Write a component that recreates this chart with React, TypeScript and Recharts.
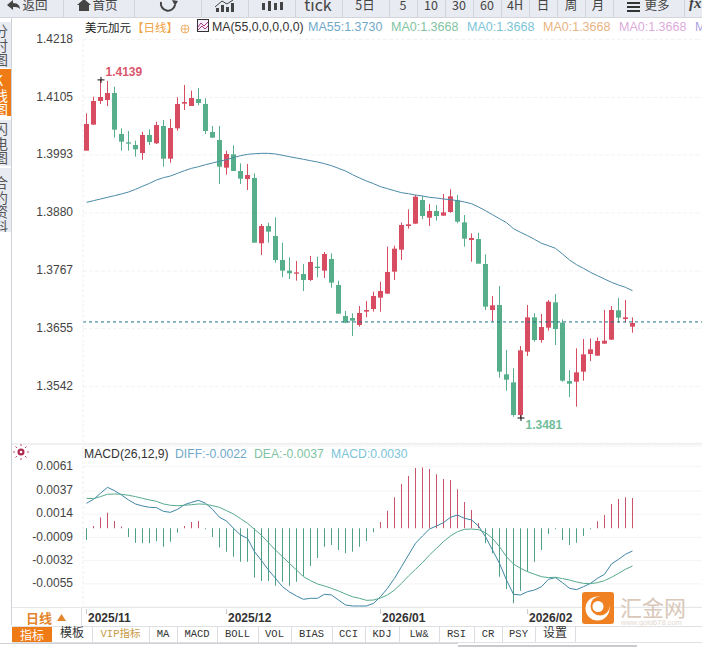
import { Bar, CartesianGrid, Cell, ComposedChart, Line, ReferenceDot, ReferenceLine, XAxis, YAxis } from 'recharts'

const opens = [1.40013, 1.40519, 1.40979, 1.40999, 1.41135, 1.40337, 1.40175, 1.40123, 1.39967, 1.40318, 1.40156, 1.40493, 1.39857, 1.40447, 1.40928, 1.40882, 1.41018, 1.40921, 1.40376, 1.4022, 1.39682, 1.39941, 1.39617, 1.39461, 1.39481, 1.3821, 1.38547, 1.38352, 1.37885, 1.37678, 1.37619, 1.37613, 1.37496, 1.37755, 1.37678, 1.37905, 1.37399, 1.36795, 1.36756, 1.3662, 1.3688, 1.36932, 1.37152, 1.3723, 1.37658, 1.38086, 1.38547, 1.38592, 1.39053, 1.38709, 1.38839, 1.38748, 1.38819, 1.39046, 1.38618, 1.38274, 1.38294, 1.37807, 1.36912, 1.37009, 1.3566, 1.35504, 1.34869, 1.36101, 1.36769, 1.36328, 1.36568, 1.37061, 1.36666, 1.3553, 1.35517, 1.35712, 1.36056, 1.36023, 1.36257, 1.36335, 1.36906, 1.36737, 1.36588]
const closes = [1.40532, 1.40979, 1.41057, 1.41135, 1.40422, 1.40188, 1.40149, 1.40039, 1.40318, 1.40182, 1.40512, 1.39857, 1.40454, 1.40921, 1.4096, 1.41038, 1.40941, 1.40396, 1.40266, 1.39701, 1.39948, 1.39617, 1.39468, 1.39539, 1.38222, 1.38547, 1.38437, 1.37885, 1.37678, 1.37626, 1.37645, 1.37496, 1.37846, 1.37729, 1.38002, 1.37444, 1.36841, 1.36666, 1.36705, 1.36854, 1.36912, 1.37185, 1.37282, 1.37652, 1.38106, 1.38566, 1.38579, 1.39118, 1.38741, 1.38839, 1.38741, 1.38813, 1.39124, 1.38631, 1.383, 1.38313, 1.37814, 1.36977, 1.37003, 1.35712, 1.35556, 1.34869, 1.36127, 1.36769, 1.36328, 1.36581, 1.37074, 1.36542, 1.35537, 1.35478, 1.35699, 1.36049, 1.36147, 1.36309, 1.36315, 1.36912, 1.36763, 1.36769, 1.36659]
const highs = [1.40739, 1.41064, 1.41388, 1.4137, 1.41258, 1.40447, 1.40396, 1.40207, 1.40383, 1.40428, 1.40577, 1.4061, 1.40629, 1.41051, 1.41291, 1.41181, 1.41232, 1.41031, 1.40493, 1.40493, 1.40013, 1.40117, 1.39766, 1.39753, 1.39572, 1.38586, 1.38612, 1.38715, 1.38222, 1.37937, 1.37866, 1.37807, 1.37963, 1.3795, 1.38041, 1.38015, 1.37483, 1.36893, 1.36847, 1.3699, 1.37087, 1.37269, 1.37464, 1.38145, 1.38164, 1.38612, 1.38871, 1.3915, 1.39131, 1.38975, 1.38955, 1.3917, 1.3926, 1.3915, 1.38761, 1.38404, 1.38417, 1.37995, 1.37185, 1.37379, 1.36134, 1.35777, 1.36212, 1.37009, 1.36847, 1.36834, 1.37107, 1.37223, 1.3673, 1.35744, 1.36166, 1.36348, 1.36361, 1.3638, 1.36912, 1.3699, 1.37146, 1.37107, 1.36769]
const lows = [1.40013, 1.40519, 1.40921, 1.40882, 1.40266, 1.40013, 1.40013, 1.39896, 1.39838, 1.40123, 1.40143, 1.39701, 1.39779, 1.40402, 1.40804, 1.40882, 1.40895, 1.40337, 1.40266, 1.39364, 1.39546, 1.39617, 1.39364, 1.39247, 1.38222, 1.37982, 1.38222, 1.37833, 1.37548, 1.37515, 1.37483, 1.37282, 1.37476, 1.37548, 1.37535, 1.37347, 1.36841, 1.36653, 1.36406, 1.36588, 1.36769, 1.3688, 1.3688, 1.3723, 1.37496, 1.37885, 1.38495, 1.38592, 1.38677, 1.38547, 1.38651, 1.38748, 1.38806, 1.38599, 1.38145, 1.37853, 1.37814, 1.36912, 1.36685, 1.35595, 1.35342, 1.34836, 1.34804, 1.36017, 1.36296, 1.36276, 1.3651, 1.36231, 1.35517, 1.35219, 1.35031, 1.35537, 1.3592, 1.36023, 1.36257, 1.36328, 1.36666, 1.36666, 1.36471]
const ma55 = [1.39007, 1.3904, 1.39072, 1.39105, 1.39137, 1.3917, 1.39208, 1.3926, 1.39319, 1.39377, 1.39442, 1.39487, 1.3952, 1.39572, 1.39624, 1.39669, 1.39701, 1.3974, 1.39773, 1.39805, 1.39838, 1.39877, 1.39915, 1.39941, 1.39954, 1.39961, 1.39961, 1.39948, 1.39922, 1.39896, 1.3987, 1.39844, 1.39818, 1.39792, 1.3976, 1.39721, 1.39669, 1.39617, 1.39546, 1.39481, 1.39423, 1.39371, 1.39312, 1.39273, 1.39234, 1.39195, 1.39176, 1.3915, 1.39131, 1.39105, 1.39092, 1.39072, 1.39059, 1.3904, 1.39014, 1.38981, 1.38917, 1.38845, 1.38767, 1.38689, 1.38612, 1.38495, 1.38424, 1.38359, 1.38287, 1.3821, 1.38164, 1.38112, 1.38002, 1.37885, 1.37794, 1.37723, 1.37645, 1.3758, 1.37515, 1.37451, 1.37399, 1.37353, 1.37288]

const diff = [0.00248, 0.00287, 0.00347, 0.00406, 0.00373, 0.0033, 0.00281, 0.00241, 0.00221, 0.00208, 0.00205, 0.00168, 0.00158, 0.00188, 0.00234, 0.00257, 0.00277, 0.00248, 0.00188, 0.00109, 0.00073, 0, -0.00066, -0.00099, -0.00231, -0.0032, -0.00413, -0.00495, -0.00578, -0.0063, -0.0067, -0.00703, -0.00693, -0.00693, -0.00653, -0.0066, -0.0071, -0.00759, -0.00769, -0.00769, -0.00769, -0.00743, -0.00677, -0.00594, -0.00495, -0.0038, -0.00264, -0.00149, -0.00076, -0.00007, 0.00023, 0.00056, 0.00109, 0.00132, 0.00099, 0.00083, 0.00023, -0.00083, -0.00215, -0.00347, -0.00512, -0.00653, -0.0066, -0.00627, -0.00611, -0.00578, -0.00505, -0.00488, -0.00538, -0.00594, -0.00607, -0.00578, -0.00545, -0.00495, -0.00455, -0.00353, -0.00307, -0.00257, -0.00224]
const dea = [0.00297, 0.00294, 0.00314, 0.00337, 0.0034, 0.00337, 0.00327, 0.00314, 0.00297, 0.00281, 0.00267, 0.00241, 0.00228, 0.00224, 0.00228, 0.00234, 0.00241, 0.00238, 0.00224, 0.00208, 0.00175, 0.00142, 0.00096, 0.0005, -0.0001, -0.00069, -0.00142, -0.00215, -0.00281, -0.00347, -0.00413, -0.00479, -0.00518, -0.00551, -0.00571, -0.00594, -0.0062, -0.0065, -0.00677, -0.00693, -0.00713, -0.0071, -0.0069, -0.0066, -0.00611, -0.00545, -0.00472, -0.00406, -0.0034, -0.00264, -0.00198, -0.00132, -0.00076, -0.00033, -0.0001, -0.00007, -0.00013, -0.00043, -0.00099, -0.00182, -0.00281, -0.00353, -0.00396, -0.00429, -0.00455, -0.00479, -0.00488, -0.00485, -0.00498, -0.00512, -0.00531, -0.00545, -0.00548, -0.00538, -0.00518, -0.00485, -0.00446, -0.00406, -0.00373]
const macd = [-0.00116, 0.00023, 0.00106, 0.00155, 0.00073, 0.00017, -0.00086, -0.00142, -0.00149, -0.00149, -0.00129, -0.00182, -0.00132, -0.00043, 0.00023, 0.00063, 0.00073, -0.0001, -0.00086, -0.00191, -0.00231, -0.00281, -0.0033, -0.0033, -0.00488, -0.00521, -0.00521, -0.00568, -0.00528, -0.00568, -0.00528, -0.00472, -0.00373, -0.00294, -0.00182, -0.00165, -0.00215, -0.00248, -0.00231, -0.00182, -0.00125, -0.0004, 0.00063, 0.00175, 0.00307, 0.00439, 0.00518, 0.00597, 0.00601, 0.00587, 0.00535, 0.00488, 0.00479, 0.00386, 0.00261, 0.00182, 0.0005, -0.00149, -0.00248, -0.00479, -0.00601, -0.00743, -0.00617, -0.00429, -0.0033, -0.00215, -0.00056, -0.0001, -0.00116, -0.00165, -0.00142, -0.00076, -0.0001, 0.00069, 0.00132, 0.00241, 0.0029, 0.00307, 0.003]

const priceTicks = [1.4218, 1.4105, 1.3993, 1.388, 1.3767, 1.3655, 1.3542]
const macdTicks = [0.0061, 0.0037, 0.0014, -0.0009, -0.0032, -0.0055]
const monthIndex = [0, 20, 42, 63]
const monthLabels = ['2025/11', '2025/12', '2026/01', '2026/02']
const lastPrice = 1.3668
const highIndex = 2
const highPrice = 1.4139
const lowIndex = 62
const lowPrice = 1.3481

const navItems: [string, number][] = [['返回', 35], ['首页', 105], ['tick', 318], ['5日', 365], ['5', 403], ['10', 431], ['30', 459], ['60', 487], ['4H', 515], ['日', 543], ['周', 571], ['月', 598], ['更多', 657]]
const navSeps = [63, 134, 201, 248, 295, 342, 389, 417, 445, 473, 501, 529, 557, 585, 613, 684]
const maLegend: [string, number, string][] = [['MA55:1.3730', 308, '#6fa8c9'], ['MA0:1.3668', 391, '#7fc4a2'], ['MA0:1.3668', 467, '#7cc4d8'], ['MA0:1.3668', 543, '#e9b484'], ['MA0:1.3668', 619, '#dcaadb'], ['MA0:1.3668', 695, '#aaa3e2']]
const bottomTabs: [string, number, number][] = [['模板', 52, 92], ['VIP指标', 92, 149], ['MA', 149, 177], ['MACD', 177, 217], ['BOLL', 217, 258], ['VOL', 258, 291], ['BIAS', 291, 332], ['CCI', 332, 365], ['KDJ', 365, 399], ['LW&', 399, 439], ['RSI', 439, 474], ['CR', 474, 502], ['PSY', 502, 535], ['设置', 535, 575]]

const RED = '#d84c62'
const GREEN = '#56ae8b'
const BAR_RED = '#c9536a'
const BAR_GREEN = '#4f9f86'
const xDomain = [-0.5, 87.93]

const candles = opens.map((open, i) => ({ i, open, close: closes[i], high: highs[i], low: lows[i], ma: ma55[i] }))
const macdRows = diff.map((d, i) => ({ i, diff: d, dea: dea[i], macd: macd[i] }))

function Candle(props: any) {
  const { x, y, width, height, payload } = props
  const up = payload.close >= payload.open
  const color = up ? RED : GREEN
  const perUnit = height / (payload.high - payload.low)
  const top = y + (payload.high - Math.max(payload.open, payload.close)) * perUnit
  const bodyH = Math.max(Math.abs(payload.close - payload.open) * perUnit, 1)
  return (
    <g>
      <rect x={x + width / 2 - 0.5} y={y} width={1} height={height} fill={color} />
      <rect x={x} y={top} width={width} height={bodyH} fill={color} />
    </g>
  )
}

function Extreme(props: any) {
  const { cx, cy, text, color, dx, dy } = props
  return (
    <g>
      <line x1={cx - 3} x2={cx + 4} y1={cy} y2={cy} stroke="#111" />
      <line x1={cx + 0.5} x2={cx + 0.5} y1={cy - 3} y2={cy + 3} stroke="#111" />
      <text x={cx + dx} y={cy + dy} fill={color} fontSize={12} fontWeight="bold" fontFamily="Liberation Sans">{text}</text>
    </g>
  )
}

function MonthTick(props: any) {
  const { x, y, payload } = props
  return (
    <g>
      <line x1={x} x2={x} y1={y - 6} y2={y - 1} stroke="#ccc" />
      <text x={x + 1.5} y={y + 7} fill="#333" fontSize={12} fontWeight="bold" fontFamily="Liberation Sans">
        {monthLabels[monthIndex.indexOf(payload.value)]}
      </text>
    </g>
  )
}

function Toolbar() {
  return (
    <div style={{ position: 'absolute', left: 0, top: 0, width: 702, height: 17, background: '#e9ebf2', borderBottom: '1px solid #d3d5da', overflow: 'hidden', color: '#444' }}>
      {navSeps.map((x) => (
        <div key={x} style={{ position: 'absolute', left: x, top: 0, width: 1, height: 17, background: '#d2d4dc' }} />
      ))}
      {navItems.map(([t, x]) => (
        <span key={t} style={{ position: 'absolute', left: x, top: t === 'tick' ? -6 : -5, transform: 'translateX(-50%)', fontSize: t === 'tick' ? 16 : 12.5, lineHeight: '20px', fontFamily: 'Noto Sans CJK SC', whiteSpace: 'nowrap' }}>{t}</span>
      ))}
      <svg width={702} height={17} style={{ position: 'absolute', left: 0, top: 0 }}>
        <path d="M7 5 L13 0 L13 3 C18 3 20 6 20 9 C18 7 16 7 13 7 L13 10 Z" fill="#444" />
        <path d="M77 5 L84 -1 L91 5 L89 5 L89 11 L79 11 L79 5 Z" fill="#444" />
        <path d="M161 2 A7 7 0 1 0 175 5" fill="none" stroke="#444" strokeWidth={2} />
        <path d="M172 0 L178 1 L175 6 Z" fill="#444" />
        <path d="M216 12 h3 v-4 h-3z M221 12 h3 v-7 h-3z M226 12 h3 v-5 h-3z M231 12 h3 v-9 h-3z" fill="#444" />
        <path d="M215 7 L222 1 L227 4 L233 0" fill="none" stroke="#444" />
        <path d="M262 3 h3 v7 h-3z M268 1 h3 v10 h-3z M274 3 h3 v7 h-3z M280 2 h3 v8 h-3z" fill="#444" />
        <path d="M627 2 h13 v2 h-13z M627 6 h13 v2 h-13z M627 10 h13 v2 h-13z" fill="#333" />
      </svg>
      <span style={{ position: 'absolute', left: 689, top: -5, fontSize: 15, fontStyle: 'italic', fontWeight: 'bold', fontFamily: 'Liberation Serif' }}>fx</span>
    </div>
  )
}

function SideTabs() {
  const tab = (label: string, top: number, height: number, textTop: number, active: boolean) => (
    <div key={label} style={{ position: 'absolute', left: 0, top, width: 11, height, background: active ? '#ee7b16' : '#e8ebf2', overflow: 'hidden', color: active ? '#fff' : '#555' }}>
      <div style={{ position: 'absolute', left: -6, top: textTop, width: 14, fontSize: 14, lineHeight: '14.6px', fontFamily: 'Noto Sans CJK SC' }}>{label}</div>
    </div>
  )
  return (
    <>
      {tab('分时图', 22, 46, 1, false)}
      {tab('K线图', 69, 47, 4, true)}
      {tab('闪电图', 120, 46, 1, false)}
      {tab('合约资料', 168, 64, 7, false)}
      <div style={{ position: 'absolute', left: 11, top: 18, width: 1, height: 607, background: '#cfd2d9' }} />
    </>
  )
}

function Header() {
  const base = { position: 'absolute', top: 20, fontSize: 12.5, lineHeight: '15px', fontFamily: 'Liberation Sans', whiteSpace: 'nowrap' } as const
  return (
    <>
      <span style={{ ...base, left: 85, color: '#222', fontSize: 11.5, fontFamily: 'Noto Sans CJK SC' }}>美元加元</span>
      <span style={{ ...base, left: 132, color: '#f0a040', fontSize: 11.5, fontFamily: 'Noto Sans CJK SC' }}>【日线】</span>
      <svg width={12} height={12} style={{ position: 'absolute', left: 179, top: 23 }}>
        <circle cx={6} cy={6} r={4} fill="none" stroke="#eeb06a" />
        <path d="M2 6 h8 M6 2 v8" stroke="#eeb06a" />
      </svg>
      <svg width={13} height={14} style={{ position: 'absolute', left: 197, top: 19 }}>
        <rect x={0.5} y={0.5} width={11} height={12} fill="#f6eef8" stroke="#333" />
        <path d="M1 8 L4 4 L7 7 L11 3 M1 11 L5 7 L8 10 L11 7" fill="none" stroke="#a8397f" />
      </svg>
      <span style={{ ...base, left: 212, color: '#333', fontSize: 12.3 }}>MA(55,0,0,0,0,0)</span>
      {maLegend.map(([t, x, c]) => (
        <span key={x} style={{ ...base, left: x, color: c }}>{t}</span>
      ))}
    </>
  )
}

function MacdHeader() {
  const base = { position: 'absolute', top: 447, fontSize: 12.2, lineHeight: '15px', fontFamily: 'Liberation Sans', whiteSpace: 'nowrap' } as const
  return (
    <>
      <svg width={18} height={18} style={{ position: 'absolute', left: 12, top: 443 }}>
        <circle cx={9} cy={9} r={3.5} fill="#b02a50" />
        <circle cx={9} cy={9} r={1.3} fill="#fff" />
        <path d="M9 1 v2 M9 15 v2 M1 9 h2 M15 9 h2 M3.5 3.5 l1.5 1.5 M13 13 l1.5 1.5 M14.5 3.5 l-1.5 1.5 M5 13 l-1.5 1.5" stroke="#c24a6a" />
      </svg>
      <span style={{ ...base, left: 84, color: '#333' }}>MACD(26,12,9)</span>
      <span style={{ ...base, left: 175, color: '#6fa8c9' }}>DIFF:-0.0022</span>
      <span style={{ ...base, left: 254, color: '#7fc4a2' }}>DEA:-0.0037</span>
      <span style={{ ...base, left: 331, color: '#7cc4d8' }}>MACD:0.0030</span>
    </>
  )
}

function BottomBars() {
  return (
    <>
      <div style={{ position: 'absolute', left: 12, top: 443, width: 690, height: 2, background: '#f1f1f3' }} />
      <div style={{ position: 'absolute', left: 12, top: 607, width: 690, height: 1, background: '#e6e7ea' }} />
      <div style={{ position: 'absolute', left: 12, top: 626, width: 690, height: 1, background: '#dfe0e3' }} />
      <div style={{ position: 'absolute', left: 12, top: 608, width: 69, height: 18, borderRight: '1px solid #dfe0e3', background: '#fff' }}>
        <span style={{ position: 'absolute', left: 14, top: 0, color: '#e3852b', fontSize: 13, lineHeight: '20px', fontWeight: 'bold', fontFamily: 'Noto Sans CJK SC' }}>日线</span>
        <svg width={10} height={8} style={{ position: 'absolute', left: 45, top: 6 }}>
          <path d="M4.5 0 L9 7 L0 7 Z" fill="#e3852b" />
        </svg>
      </div>
      <div style={{ position: 'absolute', left: 12, top: 627, width: 40, height: 15, background: '#ee7b16', color: '#fff', fontSize: 12, lineHeight: '15px', textAlign: 'center', fontFamily: 'Noto Sans CJK SC' }}>指标</div>
      {bottomTabs.map(([t, a, b]) => (
        <div key={t} style={{ position: 'absolute', left: a, top: 627, width: b - a, height: 15, borderRight: '1px solid #dcdde2', textAlign: 'center', fontSize: /[A-Z]/.test(t) ? 10.5 : 12, lineHeight: '15px', color: t.startsWith('VIP') ? '#c79a45' : '#333', fontFamily: /^[A-Z&]+$/.test(t) ? 'Liberation Mono' : '"Liberation Mono","Noto Sans CJK SC"' }}>{t}</div>
      ))}
      <div style={{ position: 'absolute', left: 12, top: 642, width: 690, height: 1, background: '#dfe0e3' }} />
      <div style={{ position: 'absolute', left: 0, top: 643, width: 458, height: 1, background: '#d0d1d5' }} />
      <div style={{ position: 'absolute', left: 458, top: 645, width: 179, height: 2, background: '#c9cacd' }} />
    </>
  )
}

function Watermark() {
  return (
    <>
      <svg width={34} height={34} style={{ position: 'absolute', left: 582, top: 592 }}>
        <rect x={0} y={0} width={32} height={32} rx={3} fill="#ef8122" />
        <circle cx={15.5} cy={16.5} r={12} fill="#fff" />
        <circle cx={18} cy={14} r={9.5} fill="#ef8122" />
        <circle cx={16} cy={14.5} r={5.5} fill="#fff" />
      </svg>
      <span style={{ position: 'absolute', left: 620, top: 592, fontSize: 22, lineHeight: '28px', color: '#d9c8ba', fontFamily: 'Noto Sans CJK SC', whiteSpace: 'nowrap' }}>汇金网</span>
      <span style={{ position: 'absolute', left: 621, top: 618, fontSize: 7.5, lineHeight: '9px', color: '#e5d9cf', fontFamily: 'Liberation Sans', whiteSpace: 'nowrap' }}>www.gold678.com</span>
    </>
  )
}

export default function App() {
  return (
    <div style={{ position: 'absolute', left: 0, top: 0, width: 702, height: 647, background: '#fff', overflow: 'hidden' }}>
      <div style={{ position: 'absolute', left: 0, top: 0 }}>
        <ComposedChart width={702} height={444} data={candles} margin={{ top: 39.3, right: 0, bottom: 1, left: 0 }}>
          <CartesianGrid horizontal vertical={false} stroke="#f2f2f2" strokeDasharray="4 2" />
          <XAxis dataKey="i" type="number" domain={xDomain} hide />
          <YAxis
            type="number"
            width={83}
            domain={[1.34324, 1.4218]}
            ticks={priceTicks}
            tickFormatter={(v: number) => v.toFixed(4)}
            tick={{ fill: '#444', fontSize: 12, fontFamily: 'Liberation Sans', dy: -1 }}
            tickLine={false}
            tickMargin={4}
            axisLine={{ stroke: '#eeeeee', strokeDasharray: '3 2' }}
          />
          <ReferenceLine y={lastPrice} stroke="#1d6f82" strokeDasharray="3 3" />
          <Bar dataKey={(d: any) => [d.low, d.high]} barSize={5} shape={<Candle />} isAnimationActive={false} />
          <Line dataKey="ma" stroke="#4b8aa8" strokeWidth={1} dot={false} isAnimationActive={false} />
          <ReferenceDot x={highIndex} y={highPrice} r={0} shape={<Extreme text={highPrice.toFixed(4)} color="#d9566c" dx={5} dy={-4} />} />
          <ReferenceDot x={lowIndex} y={lowPrice} r={0} shape={<Extreme text={lowPrice.toFixed(4)} color="#6fbd9a" dx={5} dy={11} />} />
        </ComposedChart>
      </div>
      <div style={{ position: 'absolute', left: 0, top: 444 }}>
        <ComposedChart width={702} height={182} data={macdRows} margin={{ top: 2, right: 0, bottom: 0, left: 0 }}>
          <CartesianGrid horizontal vertical={false} stroke="#f4f4f4" />
          <XAxis
            dataKey="i"
            type="number"
            domain={xDomain}
            ticks={monthIndex}
            height={19}
            tick={<MonthTick />}
            tickLine={false}
            axisLine={false}
            interval={0}
          />
          <YAxis
            type="number"
            width={83}
            domain={[-0.00779, 0.00815]}
            ticks={macdTicks}
            tickFormatter={(v: number) => v.toFixed(4)}
            tick={{ fill: '#444', fontSize: 12, fontFamily: 'Liberation Sans', dy: -1 }}
            tickLine={false}
            tickMargin={4}
            axisLine={{ stroke: '#eeeeee', strokeDasharray: '3 2' }}
          />
          <Bar dataKey="macd" barSize={1} isAnimationActive={false}>
            {macdRows.map((r) => (
              <Cell key={r.i} fill={r.macd >= 0 ? BAR_RED : BAR_GREEN} />
            ))}
          </Bar>
          <Line dataKey="diff" stroke="#3f86a6" strokeWidth={1} dot={false} isAnimationActive={false} />
          <Line dataKey="dea" stroke="#56a98f" strokeWidth={1} dot={false} isAnimationActive={false} />
        </ComposedChart>
      </div>
      <BottomBars />
      <div style={{ position: 'absolute', left: 0, top: 0, width: 702, height: 647, pointerEvents: 'none' }}>
        <Toolbar />
        <SideTabs />
        <Header />
        <MacdHeader />
        <Watermark />
      </div>
    </div>
  )
}
